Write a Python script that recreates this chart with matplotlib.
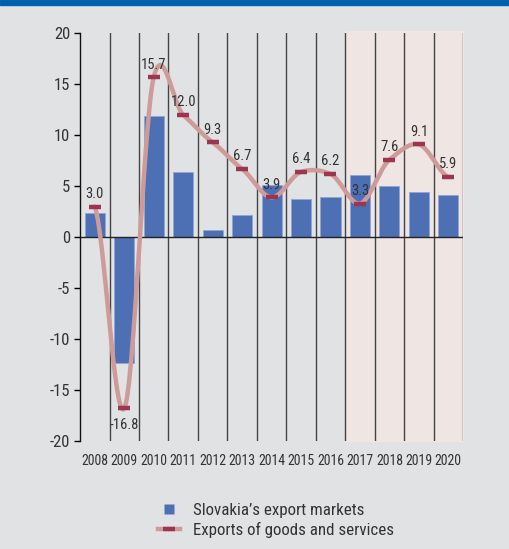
import numpy as np
import matplotlib.pyplot as plt
from matplotlib import font_manager
from matplotlib.lines import Line2D
from matplotlib.patches import Rectangle

# escolher uma fonte estreita que exista na máquina
disponiveis = {(f.name, f.stretch) for f in font_manager.fontManager.ttflist}
nomes = {n for n, s in disponiveis}
fonte = 'DejaVu Sans'
estreita = False
for candidata in ['Liberation Sans Narrow', 'Roboto Condensed', 'Open Sans Condensed',
                  'DejaVu Sans Condensed', 'Noto Sans Condensed']:
    if candidata in nomes:
        fonte, estreita = candidata, True
        break
if not estreita:
    for n, s in disponiveis:
        if n == 'DejaVu Sans' and s in ('condensed', 'semi-condensed'):
            estreita = True
            plt.rcParams['font.stretch'] = 'condensed'
            break
plt.rcParams['font.family'] = [fonte, 'DejaVu Sans']
plt.rcParams['axes.unicode_minus'] = False
escala = 1.0 if estreita else 0.85

# dados
anos = ['2008', '2009', '2010', '2011', '2012', '2013', '2014',
        '2015', '2016', '2017', '2018', '2019', '2020']
mercados = [2.4, -12.3, 11.9, 6.4, 0.7, 2.2, 5.1, 3.7, 3.9, 6.1, 5.0, 4.4, 4.1]
exportacoes = [3.0, -16.8, 15.7, 12.0, 9.3, 6.7, 3.9, 6.4, 6.2, 3.3, 7.6, 9.1, 5.9]
rotulos = ['3.0', '-16.8', '15.7', '12.0', '9.3', '6.7', '3.9',
           '6.4', '6.2', '3.3', '7.6', '9.1', '5.9']
inicio_previsao = 9  # 2017 em diante

fundo = '#e1e2e4'
azul = '#4c70b3'
rosa = '#cf9a9a'
vinho = '#9b3550'
texto = '#333333'


def curva_suave(x, y, passos=30, tensao=0.8):
    """Linha suavizada (Hermite cúbica) passando pelos pontos."""
    x = np.asarray(x, float)
    y = np.asarray(y, float)
    yp = np.concatenate([[y[0]], y, [y[-1]]])
    m = tensao * (yp[2:] - yp[:-2]) / 2
    xs, ys = [], []
    for i in range(len(x) - 1):
        t = np.linspace(0, 1, passos, endpoint=False)
        h00 = 2 * t ** 3 - 3 * t ** 2 + 1
        h10 = t ** 3 - 2 * t ** 2 + t
        h01 = -2 * t ** 3 + 3 * t ** 2
        h11 = t ** 3 - t ** 2
        xs.append(x[i] + t * (x[i + 1] - x[i]))
        ys.append(h00 * y[i] + h10 * m[i] + h01 * y[i + 1] + h11 * m[i + 1])
    xs.append([x[-1]])
    ys.append([y[-1]])
    return np.concatenate(xs), np.concatenate(ys)


fig = plt.figure(figsize=(5.10, 5.49), dpi=100, facecolor=fundo)
ax = fig.add_axes([0.157, 0.1967, 0.751, 0.7426], facecolor=fundo)

pos = np.arange(len(anos))

# faixa de previsão
ax.axvspan(inicio_previsao - 0.5, len(anos) - 0.5, ymin=0, ymax=1.006,
           color='#efe5e2', zorder=0, clip_on=False)

# linhas verticais entre os anos
for p in pos:
    ax.axvline(p + 0.5, color='#444444', lw=1.0, zorder=1)

ax.bar(pos, mercados, width=0.68, color=azul, edgecolor='#8fa6d3',
       linewidth=0.6, zorder=2)
ax.axhline(0, color='#222222', lw=1.0, zorder=2.5)

xs, ys = curva_suave(pos, exportacoes)
ax.plot(xs, ys, color=rosa, lw=3.2, zorder=3, solid_capstyle='round')
ax.plot(pos, exportacoes, linestyle='none', marker='_', markersize=9,
        markeredgewidth=3.2, color=vinho, zorder=4)

for p, v, r in zip(pos, exportacoes, rotulos):
    if v < 0:
        ax.annotate(r, (p, v), xytext=(0, -7), textcoords='offset points',
                    ha='center', va='top', fontsize=10.5 * escala, color=texto, zorder=5)
    else:
        ax.annotate(r, (p, v), xytext=(0, 4), textcoords='offset points',
                    ha='center', va='bottom', fontsize=10.5 * escala, color=texto, zorder=5)

ax.set_xlim(-0.5, len(anos) - 0.5)
ax.set_ylim(-20, 20)
ax.set_yticks(range(-20, 21, 5))
ax.set_xticks(pos)
ax.set_xticklabels(anos)
ax.tick_params(axis='x', length=0, pad=9, labelsize=10 * escala, labelcolor=texto)
ax.tick_params(axis='y', length=4, width=1, pad=3, labelsize=12 * escala,
               labelcolor=texto, direction='out')
for lado in ['top', 'right', 'bottom']:
    ax.spines[lado].set_visible(False)
ax.spines['left'].set_color('#111111')
ax.spines['left'].set_linewidth(1.0)

# faixa azul no topo
fig.patches.append(Rectangle((0, 1 - 5 / 549), 1, 5 / 549, transform=fig.transFigure,
                             color='#0062ad', zorder=10))

alcas = [Line2D([], [], linestyle='none', marker='s', markersize=7.5,
                markerfacecolor=azul, markeredgecolor='none'),
         Line2D([], [], color=rosa, lw=3.2, marker='_', markersize=9,
                markeredgewidth=3.2, markeredgecolor=vinho)]
fig.legend(alcas, ["Slovakia’s export markets", 'Exports of goods and services'],
           loc='upper left', bbox_to_anchor=(0.293, 0.099), frameon=False,
           fontsize=12.2 * escala, handlelength=1.3, handleheight=0.7, handletextpad=0.75,
           labelspacing=0.25, borderpad=0, labelcolor=texto)

fig.savefig('out.png', dpi=100, facecolor=fundo)
